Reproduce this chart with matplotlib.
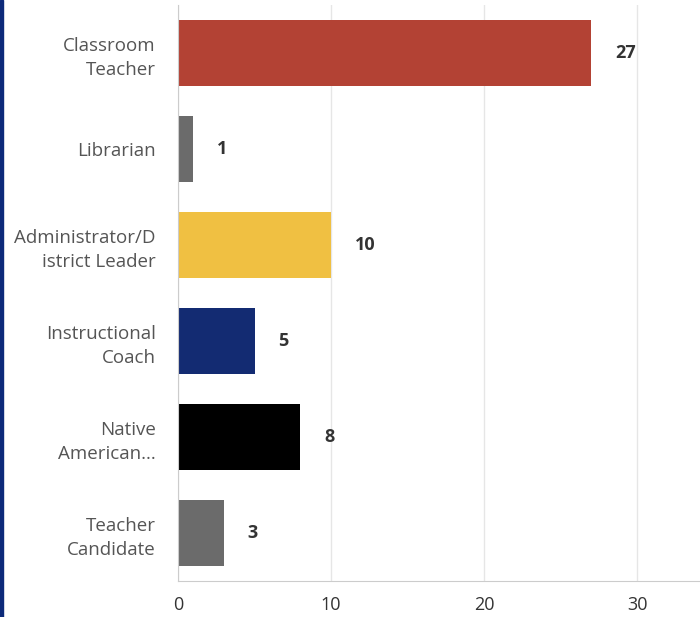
import matplotlib
matplotlib.use("Agg")
import matplotlib.pyplot as plt
from matplotlib.patches import Rectangle

# Data
categories = [
    "Classroom\nTeacher",
    "Librarian",
    "Administrator/D\nistrict Leader",
    "Instructional\nCoach",
    "Native\nAmerican...",
    "Teacher\nCandidate",
]
counts = [27, 1, 10, 5, 8, 3]
colors = ["#b34234", "#6b6b6b", "#f0c042", "#132b72", "#000000", "#6b6b6b"]
xticks = [0, 10, 20, 30]

plt.rcParams["font.family"] = ["Open Sans", "DejaVu Sans"]

fig = plt.figure(figsize=(7.0, 6.17), dpi=100)
ax = fig.add_axes([178 / 700, 36 / 617, 1 - 178 / 700, 576 / 617])

ypos = list(range(len(categories)))
ax.barh(ypos, counts, height=0.69, color=colors, zorder=3)

for y, v in zip(ypos, counts):
    ax.annotate(
        str(v),
        xy=(v, y),
        xytext=(17, 0),
        textcoords="offset points",
        va="center",
        ha="left",
        fontsize=13,
        fontweight="bold",
        color="#333333",
    )

ax.set_ylim(len(categories) - 0.5, -0.5)
ax.set_xlim(0, 34.1)

ax.set_yticks(ypos)
ax.set_yticklabels(categories, fontsize=13.5, color="#555555", linespacing=1.45)
ax.set_xticks(xticks)
ax.set_xticklabels([str(t) for t in xticks], fontsize=13, color="#333333")

ax.tick_params(axis="y", length=0, pad=16)
ax.tick_params(axis="x", length=0, pad=11)

ax.grid(axis="x", color="#e6e6e6", linewidth=1, zorder=0)

for side in ["top", "right"]:
    ax.spines[side].set_visible(False)
ax.spines["left"].set_color("#cccccc")
ax.spines["bottom"].set_color("#cccccc")
ax.spines["left"].set_zorder(4)

# dark blue stripe at the left edge
fig.patches.append(
    Rectangle((0, 0), 3 / 700, 1, transform=fig.transFigure,
              color="#0d2a7a", zorder=0)
)

fig.savefig("out.png", dpi=100)
